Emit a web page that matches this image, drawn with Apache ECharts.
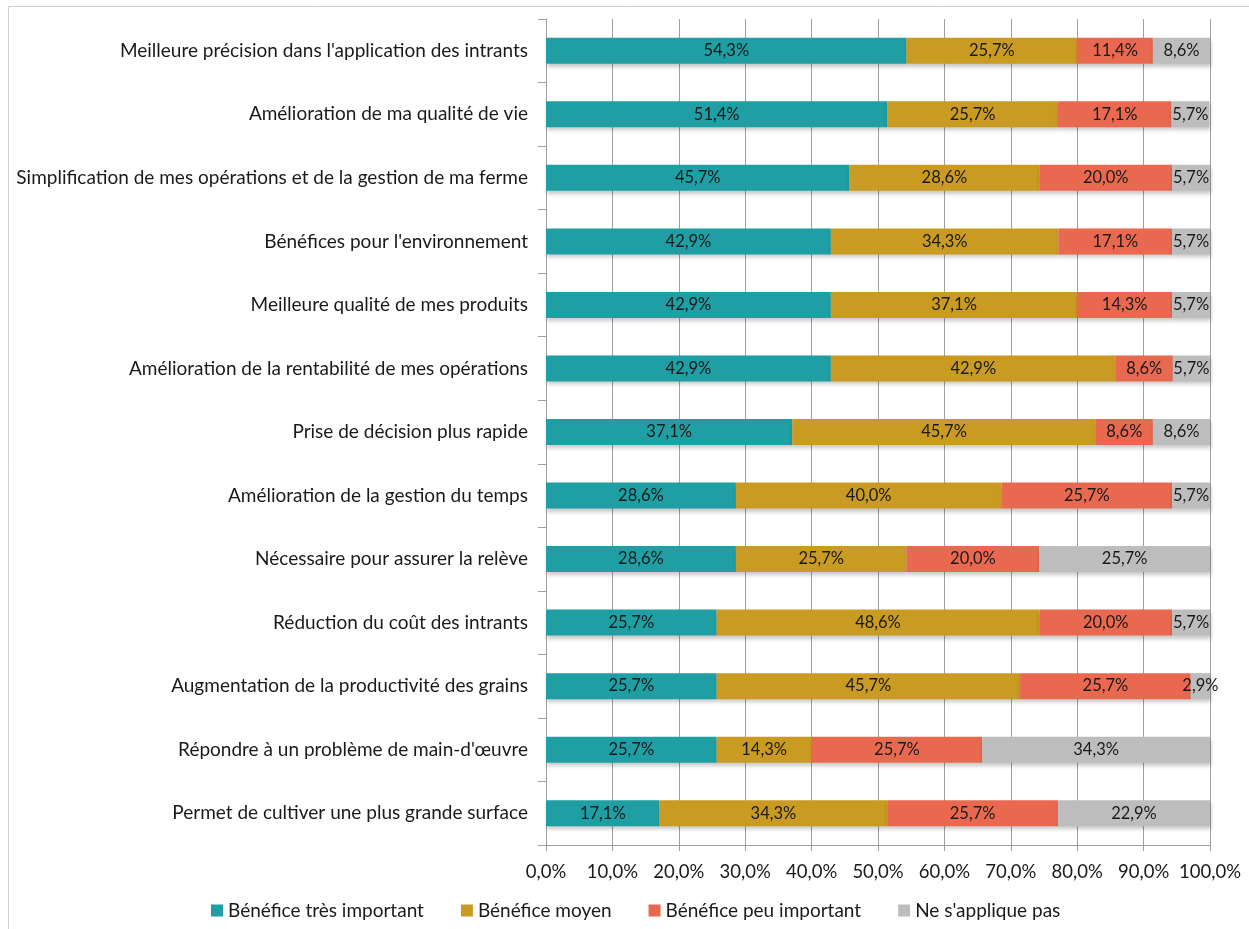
<!DOCTYPE html>
<html>
<head>
<meta charset="utf-8">
<title>Bénéfices perçus</title>
<script src="https://cdn.jsdelivr.net/npm/echarts@6/dist/echarts.min.js"></script>
<style>
  html, body { margin: 0; padding: 0; background: #fff; }
  #chart { width: 1249px; height: 929px; }
</style>
</head>
<body>
<div id="chart"></div>
<script>
// Categories, listed top to bottom
const categories = [
  "Meilleure précision dans l'application des intrants",
  "Amélioration de ma qualité de vie",
  "Simplification de mes opérations et de la gestion de ma ferme",
  "Bénéfices pour l'environnement",
  "Meilleure qualité de mes produits",
  "Amélioration de la rentabilité de mes opérations",
  "Prise de décision plus rapide",
  "Amélioration de la gestion du temps",
  "Nécessaire pour assurer la relève",
  "Réduction du coût des intrants",
  "Augmentation de la productivité des grains",
  "Répondre à un problème de main-d'œuvre",
  "Permet de cultiver une plus grande surface"
];

const seriesNames = [
  "Bénéfice très important",
  "Bénéfice moyen",
  "Bénéfice peu important",
  "Ne s'applique pas"
];

// Percentages per category
const tresImportant = [54.3, 51.4, 45.7, 42.9, 42.9, 42.9, 37.1, 28.6, 28.6, 25.7, 25.7, 25.7, 17.1];
const moyen         = [25.7, 25.7, 28.6, 34.3, 37.1, 42.9, 45.7, 40.0, 25.7, 48.6, 45.7, 14.3, 34.3];
const peuImportant  = [11.4, 17.1, 20.0, 17.1, 14.3,  8.6,  8.6, 25.7, 20.0, 20.0, 25.7, 25.7, 25.7];
const neSAppliquePas= [ 8.6,  5.7,  5.7,  5.7,  5.7,  5.7,  8.6,  5.7, 25.7,  5.7,  2.9, 34.3, 22.9];

const colors = ['#1F9EA3', '#C99B22', '#E8694F', '#BDBDBD'];
const FONT = 'Lato';

const pct = v => v.toFixed(1).replace('.', ',') + '%';

const chart = echarts.init(document.getElementById('chart'), null, { renderer: 'canvas' });

const seriesData = [tresImportant, moyen, peuImportant, neSAppliquePas];

chart.setOption({
  animation: false,
  textStyle: { fontFamily: FONT },
  graphic: [{
    type: 'rect',
    silent: true,
    shape: { x: 8.5, y: 6.5, width: 1300, height: 1000 },
    style: { fill: 'none', stroke: '#cfcfcf', lineWidth: 1 },
    z: -10
  }],
  grid: { left: 546, right: 39, top: 19, bottom: 84, containLabel: false },
  legend: {
    left: 206,
    top: 896,
    itemWidth: 12,
    itemHeight: 12,
    itemGap: 37,
    icon: 'rect',
    textStyle: { fontFamily: FONT, fontSize: 19, color: '#1a1a1a' },
    data: seriesNames
  },
  xAxis: {
    type: 'value',
    min: 0,
    max: 100,
    interval: 10,
    axisLine: { show: true, lineStyle: { color: '#a0a0a0', width: 1 } },
    axisTick: { show: true, length: 6, lineStyle: { color: '#a0a0a0' } },
    axisLabel: { formatter: v => pct(v), fontFamily: FONT, fontSize: 18.5, color: '#1a1a1a', margin: 18 },
    splitLine: { show: true, lineStyle: { color: '#a0a0a0', width: 1 } }
  },
  yAxis: {
    type: 'category',
    inverse: true,
    data: categories,
    axisLine: { show: true, lineStyle: { color: '#a0a0a0', width: 1 } },
    axisTick: { show: true, length: 8, lineStyle: { color: '#a0a0a0' } },
    axisLabel: { fontFamily: FONT, fontSize: 19, color: '#1a1a1a', margin: 18 }
  },
  series: seriesNames.map((name, i) => ({
    name,
    type: 'bar',
    stack: 'total',
    barWidth: 26,
    data: seriesData[i],
    itemStyle: {
      color: colors[i],
      shadowColor: 'rgba(0,0,0,0.22)',
      shadowBlur: 4,
      shadowOffsetY: 3,
      shadowOffsetX: 1
    },
    label: {
      show: true,
      position: 'inside',
      formatter: p => pct(p.value),
      fontFamily: FONT,
      fontSize: 16.5,
      color: '#1a1a1a'
    }
  }))
});
</script>
</body>
</html>
